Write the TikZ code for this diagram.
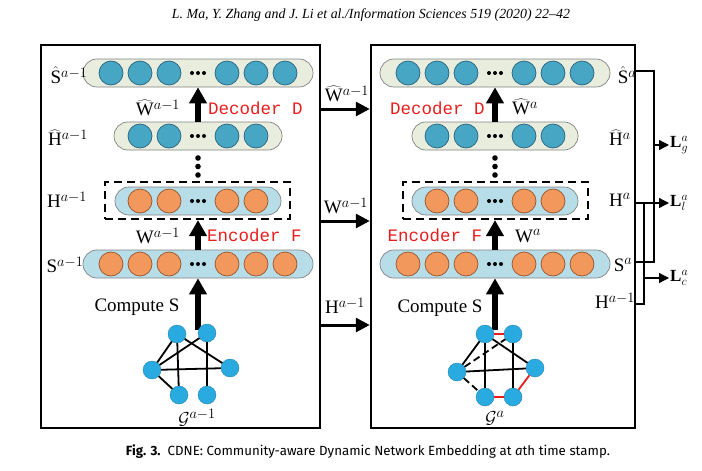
\documentclass[tikz,border=0pt]{standalone}
\usepackage{graphicx}
\usepackage{fontspec}
\setmainfont{Liberation Serif}
\newfontfamily\monof{Liberation Mono}
\newfontfamily\capf{Fira Sans}
\usetikzlibrary{arrows.meta,calc}
\definecolor{hatpill}{RGB}{233,237,222}
\definecolor{bluepill}{RGB}{183,221,233}
\definecolor{tealc}{RGB}{72,166,197}
\definecolor{tealdark}{RGB}{40,100,125}
\definecolor{orangec}{RGB}{242,152,92}
\definecolor{orangedark}{RGB}{150,85,45}
\definecolor{gblue}{RGB}{41,171,226}
\definecolor{redc}{RGB}{232,30,30}
\definecolor{pillline}{RGB}{130,130,130}
\newcommand\mkpill[7]{%
  \node[#5, minimum width=#4pt] (#1) at (#2,#3) {};
  \foreach \o [count=\i] in {#7} {\node[#6] (#1c\i) at ($(#1)+(\o,0)$) {};}
  \foreach \d in {-6,0,6} {\fill ($(#1)+(\d,0)$) circle (2pt);}
}
\begin{document}
\begin{tikzpicture}[x=1pt,y=-1pt,
  panel/.style={draw, line width=2.5pt, inner sep=0pt},
  hpill/.style={draw=pillline, line width=0.7pt, fill=hatpill, rounded corners=13.9pt, minimum height=28pt, inner sep=0pt},
  bpill/.style={draw=pillline, line width=0.7pt, fill=bluepill, rounded corners=13.9pt, minimum height=28pt, inner sep=0pt},
  hcirc/.style={circle, draw=tealdark, fill=tealc, line width=0.7pt, minimum size=24pt, inner sep=0pt},
  ocirc/.style={circle, draw=orangedark, fill=orangec, line width=0.7pt, minimum size=24pt, inner sep=0pt},
  gnode/.style={circle, fill=gblue, draw=gblue!70!black, line width=0.3pt, minimum size=18pt, inner sep=0pt},
  gedge/.style={line width=1.8pt},
  redge/.style={line width=1.8pt, draw=redc},
  dedge/.style={line width=1.8pt, dash pattern=on 7pt off 4pt},
  bigarrow/.style={line width=5.5pt, -{Triangle[length=16pt,width=17pt]}},
  midarrow/.style={line width=3pt, -{Triangle[length=14pt,width=14pt]}},
  larrow/.style={line width=1.3pt, -{Triangle[length=10pt,width=10pt]}},
  lbl/.style={font=\fontsize{19}{21}\selectfont, inner sep=0pt},
  llbl/.style={font=\fontsize{17}{19}\selectfont, inner sep=1pt, anchor=west},
  redlbl/.style={font=\monof\fontsize{17.5}{19}\selectfont, text=redc, inner sep=0pt},
  dashbox/.style={draw, line width=2.2pt, dash pattern=on 8pt off 5pt, inner sep=0pt}
]
\useasboundingbox (0,0) rectangle (702,471);

% header and caption
\node[font=\itshape, inner sep=0pt] (hdr) at (371,15) {\resizebox{398pt}{!}{L. Ma, Y. Zhang and J. Li et al./Information Sciences 519 (2020) 22–42}};
\node[inner sep=0pt] (cap) at (368,452) {\resizebox{484pt}{!}{\capf\textbf{Fig. 3.}\ \ CDNE: Community-aware Dynamic Network Embedding at \textit{a}th time stamp.}};

% panels
\node[panel, minimum width=279pt, minimum height=383pt] (lbox) at (180.5,236.5) {};
\node[panel, minimum width=264pt, minimum height=383pt] (rbox) at (503,236.5) {};

% ---------- left panel ----------
\mkpill{lSh}{198}{73}{230}{hpill}{hcirc}{-87,-58,-29,29,58,87}
\mkpill{lHh}{198}{136}{168}{hpill}{hcirc}{-58,-29,29,58}
\node[dashbox, minimum width=185pt, minimum height=37pt] (ldash) at (197.5,200.5) {};
\mkpill{lH}{198}{201}{166}{bpill}{ocirc}{-58,-29,29,58}
\mkpill{lS}{198}{264}{230}{bpill}{ocirc}{-87,-58,-29,29,58,87}
\foreach \yy in {158,166.5,175} {\fill (198,\yy) circle (2.8pt);}

\draw[bigarrow] (lHh.north) -- (lHh.north |- lSh.south);
\draw[bigarrow] (lS.north) -- (lS.north |- ldash.south);
\coordinate (lgtop) at (198,330);
\draw[bigarrow] (lgtop) -- (lgtop |- lS.south);

\node[lbl] (lShl) at (69,75) {$\hat{\mathrm{S}}^{a-1}$};
\node[lbl] (lWhl) at (158,108) {$\widehat{\mathrm{W}}^{a-1}$};
\node[lbl] (lHhl) at (68,138) {$\widehat{\mathrm{H}}^{a-1}$};
\node[lbl] (lHl) at (67,200) {$\mathrm{H}^{a-1}$};
\node[lbl] (lWl) at (158,236) {$\mathrm{W}^{a-1}$};
\node[lbl] (lSl) at (65,265) {$\mathrm{S}^{a-1}$};
\node[lbl] (lcomp) at (137,307) {Compute S};
\node[lbl] (lG) at (197,418) {$\mathcal{G}^{a-1}$};
\node[redlbl] (ldec) at (255.5,108) {Decoder D};
\node[redlbl] (lenc) at (254.5,235) {Encoder F};

% left graph
\node[gnode] (lA) at (177,334) {};
\node[gnode] (lB) at (207,333) {};
\node[gnode] (lC) at (152,370) {};
\node[gnode] (lD) at (230,368) {};
\node[gnode] (lE) at (179,395) {};
\node[gnode] (lF) at (207,395) {};
\draw[gedge] (lC) -- (lA);
\draw[gedge] (lC) -- (lB);
\draw[gedge] (lA) -- (lD);
\draw[gedge] (lC) -- (lD);
\draw[gedge] (lC) -- (lE);
\draw[gedge] (lA) -- (lE);
\draw[gedge] (lB) -- (lF);

% ---------- right panel ----------
\mkpill{rSh}{495}{73}{230}{hpill}{hcirc}{-87,-58,-29,29,58,87}
\mkpill{rHh}{495}{136}{166}{hpill}{hcirc}{-58,-29,29,58}
\node[dashbox, minimum width=185pt, minimum height=37pt] (rdash) at (495.5,200.5) {};
\mkpill{rH}{495}{201}{166}{bpill}{ocirc}{-58,-29,29,58}
\mkpill{rS}{495}{264}{230}{bpill}{ocirc}{-87,-58,-29,29,58,87}
\foreach \yy in {158,166.5,175} {\fill (495,\yy) circle (2.8pt);}

\draw[bigarrow] (rHh.north) -- (rHh.north |- rSh.south);
\draw[bigarrow] (rS.north) -- (rS.north |- rdash.south);
\coordinate (rgtop) at (495,330);
\draw[bigarrow] (rgtop) -- (rgtop |- rS.south);

\node[lbl] (rShl) at (627,75) {$\hat{\mathrm{S}}^{a}$};
\node[lbl] (rWhl) at (525,107) {$\widehat{\mathrm{W}}^{a}$};
\node[lbl] (rHhl) at (620,138) {$\widehat{\mathrm{H}}^{a}$};
\node[lbl] (rHl) at (620,200) {$\mathrm{H}^{a}$};
\node[lbl] (rWl) at (528,236) {$\mathrm{W}^{a}$};
\node[lbl] (rSl) at (623,265) {$\mathrm{S}^{a}$};
\node[lbl] (rHml) at (615,301) {$\mathrm{H}^{a-1}$};
\node[lbl] (rcomp) at (440,308) {Compute S};
\node[lbl] (rG) at (495,418) {$\mathcal{G}^{a}$};
\node[redlbl] (rdec) at (437.5,108) {Decoder D};
\node[redlbl] (renc) at (435,235) {Encoder F};

% right graph
\node[gnode] (rA) at (485,334) {};
\node[gnode] (rB) at (513,334) {};
\node[gnode] (rC) at (457,372) {};
\node[gnode] (rD) at (535,368) {};
\node[gnode] (rE) at (485,397) {};
\node[gnode] (rF) at (513,397) {};
\draw[redge] (rA) -- (rB);
\draw[gedge] (rA) -- (rC);
\draw[dedge] (rC) -- (rB);
\draw[gedge] (rA) -- (rD);
\draw[gedge] (rC) -- (rD);
\draw[gedge] (rA) -- (rE);
\draw[gedge] (rB) -- (rF);
\draw[dedge] (rC) -- (rE);
\draw[redge] (rE) -- (rF);
\draw[redge] (rF) -- (rD);

% ---------- between panels ----------
\coordinate (y1) at (0,109);
\coordinate (y2) at (0,221);
\coordinate (y3) at (0,325);
\draw[midarrow] (lbox.east |- y1) -- (rbox.west |- y1);
\draw[midarrow] (lbox.east |- y2) -- (rbox.west |- y2);
\draw[midarrow] (lbox.east |- y3) -- (rbox.west |- y3);
\node[lbl] (mWh) at (347,94) {$\widehat{\mathrm{W}}^{a-1}$};
\node[lbl] (mW) at (346,206) {$\mathrm{W}^{a-1}$};
\node[lbl] (mH) at (345,306) {$\mathrm{H}^{a-1}$};

% ---------- losses ----------
\node[llbl] (Lg) at (669,145) {$\mathbf{L}_g^a$};
\node[llbl] (Ll) at (669,203) {$\mathbf{L}_l^a$};
\node[llbl] (Lc) at (669,278) {$\mathbf{L}_c^a$};
\coordinate (ySh) at (0,71);
\coordinate (yS) at (0,262);
\coordinate (yH) at (0,203);
\coordinate (yHm) at (0,304);
\coordinate (xg) at (654,0);
\coordinate (xc) at (644,0);
\draw[line width=1.3pt] (xg |- ySh) -- (xg |- yS);
\draw[line width=2.5pt] (rbox.east |- ySh) -- ([xshift=0.65pt]xg |- ySh);
\draw[line width=2.5pt] (rbox.east |- yS) -- ([xshift=0.65pt]xg |- yS);
\draw[larrow] (xg |- Lg.west) -- (Lg.west);
\draw[larrow] (rbox.east |- yH) -- (Ll.west);
\draw[line width=2pt] (xc |- yH) -- (xc |- yHm) -- (rbox.east |- yHm);
\draw[larrow] (xc |- Lc.west) -- (Lc.west);
\end{tikzpicture}
\end{document}
